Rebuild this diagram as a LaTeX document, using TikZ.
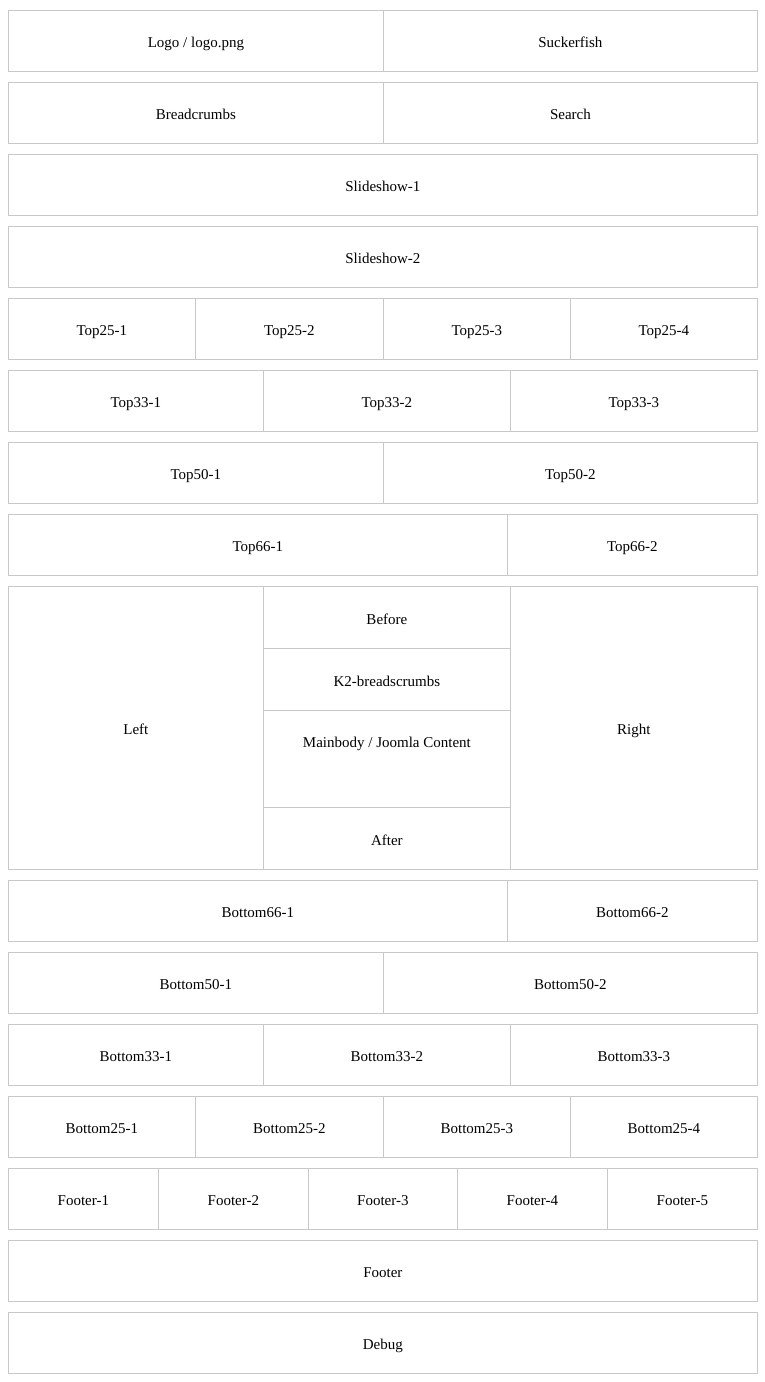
\documentclass[tikz,border=0pt]{standalone}
\usepackage{fontspec}
\setmainfont{Liberation Serif}
\definecolor{linegray}{HTML}{C8C8C8}
\tikzset{
  celltext/.style={font=\fontsize{15}{17}\selectfont, text height=16, text depth=2},
  cell/.style={draw=linegray, line width=1.8pt, anchor=north west, inner sep=0pt,
    minimum height=61, celltext},
}
\begin{document}
\begin{tikzpicture}[x=1pt,y=-1pt]
    \useasboundingbox (0.5,0.5) rectangle (765.5,1382.5);
    % header rows
    \node [cell, minimum width=375] (logo) at (8,10) {Logo / logo.png};
    \node [cell, minimum width=374] (suckerfish) at (383,10) {Suckerfish};
    \node [cell, minimum width=375] (breadcrumbs) at (8,82) {Breadcrumbs};
    \node [cell, minimum width=374] (search) at (383,82) {Search};
    \node [cell, minimum width=749] (slide1) at (8,154) {Slideshow-1};
    \node [cell, minimum width=749] (slide2) at (8,226) {Slideshow-2};
    % top modules
    \node [cell, minimum width=187] (top25a) at (8,298) {Top25-1};
    \node [cell, minimum width=188] (top25b) at (195,298) {Top25-2};
    \node [cell, minimum width=187] (top25c) at (383,298) {Top25-3};
    \node [cell, minimum width=187] (top25d) at (570,298) {Top25-4};
    \node [cell, minimum width=255] (top33a) at (8,370) {Top33-1};
    \node [cell, minimum width=247] (top33b) at (263,370) {Top33-2};
    \node [cell, minimum width=247] (top33c) at (510,370) {Top33-3};
    \node [cell, minimum width=375] (top50a) at (8,442) {Top50-1};
    \node [cell, minimum width=374] (top50b) at (383,442) {Top50-2};
    \node [cell, minimum width=499] (top66a) at (8,514) {Top66-1};
    \node [cell, minimum width=250] (top66b) at (507,514) {Top66-2};
    % main area
    \node [cell, minimum width=255, minimum height=283] (left) at (8,586) {Left};
    \node [cell, minimum width=247, minimum height=62] (before) at (263,586) {Before};
    \node [cell, minimum width=247, minimum height=62] (k2crumbs) at (263,648) {K2-breadscrumbs};
    \node [cell, minimum width=247, minimum height=97,
      label={[anchor=center, yshift=-31, celltext]north:Mainbody / Joomla Content}]
      (mainbody) at (263,710) {};
    \node [cell, minimum width=247, minimum height=62] (after) at (263,807) {After};
    \node [cell, minimum width=247, minimum height=283] (right) at (510,586) {Right};
    % bottom modules
    \node [cell, minimum width=499] (bot66a) at (8,880) {Bottom66-1};
    \node [cell, minimum width=250] (bot66b) at (507,880) {Bottom66-2};
    \node [cell, minimum width=375] (bot50a) at (8,952) {Bottom50-1};
    \node [cell, minimum width=374] (bot50b) at (383,952) {Bottom50-2};
    \node [cell, minimum width=255] (bot33a) at (8,1024) {Bottom33-1};
    \node [cell, minimum width=247] (bot33b) at (263,1024) {Bottom33-2};
    \node [cell, minimum width=247] (bot33c) at (510,1024) {Bottom33-3};
    \node [cell, minimum width=187] (bot25a) at (8,1096) {Bottom25-1};
    \node [cell, minimum width=188] (bot25b) at (195,1096) {Bottom25-2};
    \node [cell, minimum width=187] (bot25c) at (383,1096) {Bottom25-3};
    \node [cell, minimum width=187] (bot25d) at (570,1096) {Bottom25-4};
    % footer
    \node [cell, minimum width=150] (foot1) at (8,1168) {Footer-1};
    \node [cell, minimum width=150] (foot2) at (158,1168) {Footer-2};
    \node [cell, minimum width=149] (foot3) at (308,1168) {Footer-3};
    \node [cell, minimum width=150] (foot4) at (457,1168) {Footer-4};
    \node [cell, minimum width=150] (foot5) at (607,1168) {Footer-5};
    \node [cell, minimum width=749] (footer) at (8,1240) {Footer};
    \node [cell, minimum width=749] (debug) at (8,1312) {Debug};
\end{tikzpicture}
\end{document}
